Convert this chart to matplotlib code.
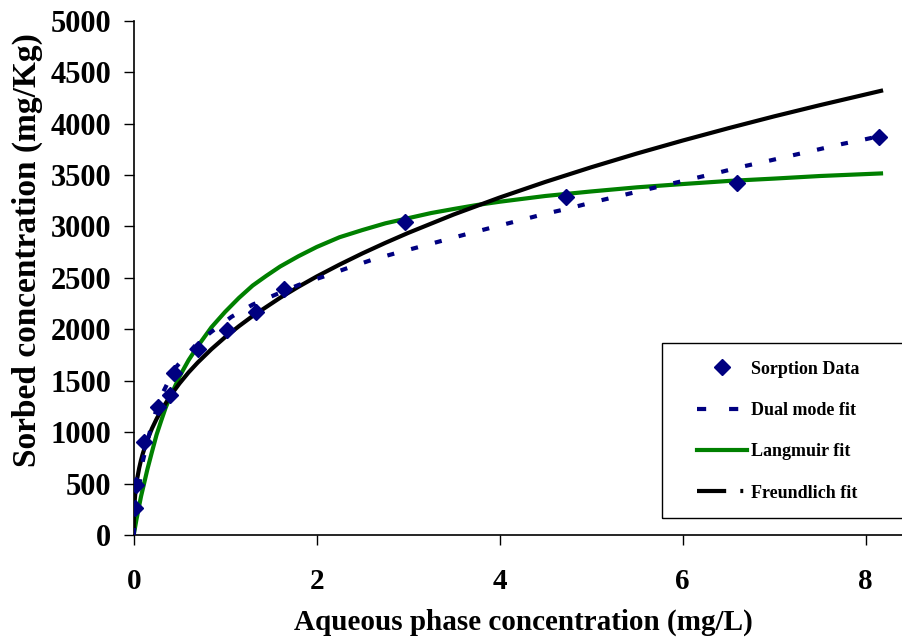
import matplotlib
matplotlib.use("Agg")
import matplotlib.pyplot as plt
from matplotlib.lines import Line2D
from matplotlib.patches import Rectangle

plt.rcParams['font.family'] = ['Liberation Serif', 'DejaVu Serif']
plt.rcParams['font.weight'] = 'bold'

# Sorption data (aqueous conc. mg/L, sorbed conc. mg/Kg)
data_x = [0.01, 0.03, 0.11, 0.27, 0.40, 0.44, 0.70, 1.02, 1.34, 1.64, 2.97, 4.73, 6.59, 8.15]
data_y = [260, 486, 900, 1248, 1361, 1575, 1813, 1995, 2172, 2388, 3040, 3290, 3425, 3873]

# Dual mode fit curve
dual_x = [0, 0.02, 0.05, 0.10, 0.20, 0.30, 0.45, 0.70, 0.85, 1.07, 1.30, 1.54, 1.80, 2.07, 2.33,
          2.60, 2.86, 3.13, 3.40, 3.67, 4.49, 4.76, 5.04, 6.39, 6.65, 6.93, 7.74, 8.01, 8.15]
dual_y = [0, 200, 420, 720, 1090, 1350, 1620, 1870, 1976, 2122, 2240, 2333, 2430, 2511, 2593,
          2674, 2739, 2803, 2868, 2933, 3121, 3176, 3240, 3523, 3581, 3636, 3801, 3850, 3878]

# Langmuir fit curve
lang_x = [0, 0.02, 0.03, 0.05, 0.08, 0.10, 0.15, 0.20, 0.25, 0.30, 0.35, 0.40, 0.50, 0.60,
          0.70, 0.85, 1.00, 1.15, 1.30, 1.45, 1.60, 1.80, 2.00, 2.25, 2.50, 2.75, 3.00, 3.25,
          3.50, 3.75, 4.00, 4.50, 5.00, 5.50, 6.00, 6.50, 7.00, 7.50, 8.19]
lang_y = [0, 100, 150, 240, 375, 450, 640, 810, 975, 1110, 1240, 1345, 1540, 1700,
          1835, 2020, 2170, 2305, 2425, 2520, 2610, 2710, 2800, 2895, 2965, 3030, 3080, 3130,
          3170, 3208, 3240, 3296, 3340, 3380, 3412, 3442, 3465, 3490, 3516]

# Freundlich fit curve
freu_x = [0, 0.002, 0.005, 0.01, 0.02, 0.03, 0.04, 0.06, 0.08, 0.10, 0.15, 0.20, 0.25, 0.30,
          0.40, 0.50, 0.60, 0.70, 0.85, 1.00, 1.15, 1.30, 1.60, 1.80, 2.00, 2.25, 2.50, 2.75,
          3.00, 3.50, 4.00, 4.50, 5.00, 5.50, 6.00, 6.50, 7.00, 7.50, 8.19]
freu_y = [0, 176, 250, 327, 427, 499, 557, 651, 728, 793, 927, 1036, 1128, 1210,
          1352, 1473, 1581, 1677, 1807, 1924, 2030, 2129, 2306, 2413, 2513, 2629, 2738, 2840,
          2937, 3117, 3281, 3433, 3575, 3709, 3835, 3955, 4070, 4179, 4323]

x_ticks = [0, 2, 4, 6, 8]
y_ticks = list(range(0, 5001, 500))

navy = '#000080'
green = '#008000'

W, H = 902, 642
fig = plt.figure(figsize=(W / 100, H / 100), dpi=100)
left_px, right_px, top_px, bottom_px = 133.7, 902, 20.7, 535
ax = fig.add_axes([left_px / W, 1 - bottom_px / H, (right_px - left_px) / W, (bottom_px - top_px) / H])

ax.plot(lang_x, lang_y, color=green, lw=3, solid_capstyle='butt', solid_joinstyle='round', zorder=2)
ax.plot(freu_x, freu_y, color='black', lw=3, solid_capstyle='butt', solid_joinstyle='round', zorder=3)
ax.plot(dual_x, dual_y, color=navy, lw=3, dashes=(1.7, 4.2), dash_capstyle='butt', zorder=4)
ax.plot(data_x, data_y, linestyle='none', marker='D', ms=8, color=navy, zorder=5)

ax.set_xlim(0, (right_px - left_px) / 91.5)
ax.set_ylim(0, 5000)
ax.set_xticks(x_ticks)
ax.set_yticks(y_ticks)
ax.set_xticklabels([str(v) for v in x_ticks], fontsize=21, fontweight='bold')
ax.set_yticklabels([str(v) for v in y_ticks], fontsize=22, fontweight='bold')
ax.tick_params(axis='x', direction='out', length=7, width=1, pad=17)
ax.tick_params(axis='y', direction='out', length=7, width=1, pad=9)
for s in ['top', 'right']:
    ax.spines[s].set_visible(False)
for s in ['left', 'bottom']:
    ax.spines[s].set_linewidth(1.2)

ax.set_xlabel('Aqueous phase concentration (mg/L)', fontsize=21, fontweight='bold')
ax.set_ylabel('Sorbed concentration (mg/Kg)', fontsize=24, fontweight='bold')
ax.xaxis.set_label_coords(0.507, -0.143)
ax.yaxis.set_label_coords(-0.118, 0.554)

# Legend
handles = [
    Line2D([], [], linestyle='none', marker='D', ms=8, color=navy),
    Line2D([], [], color=navy, lw=3, dashes=(2.2, 5.5), dash_capstyle='butt'),
    Line2D([], [], color=green, lw=3),
    Line2D([], [], color='black', lw=3, dashes=(7, 3.4, 0.7, 3.4), dash_capstyle='butt'),
]
labels = ['Sorption Data', 'Dual mode fit', 'Langmuir fit', 'Freundlich fit']
leg = fig.legend(handles, labels, loc='upper left',
                 bbox_to_anchor=(684 / W, 1 - 348 / H), bbox_transform=fig.transFigure,
                 frameon=False, prop={'family': 'Liberation Serif', 'weight': 'bold', 'size': 13},
                 handlelength=2.8, handletextpad=0.2, labelspacing=1.35, borderpad=0.2)
fig.add_artist(Rectangle((662 / W, 1 - 518 / H), (W + 5 - 662) / W, (518 - 343) / H,
                         transform=fig.transFigure, fill=False, edgecolor='black', lw=1.0))

fig.savefig('out.png', dpi=100)
